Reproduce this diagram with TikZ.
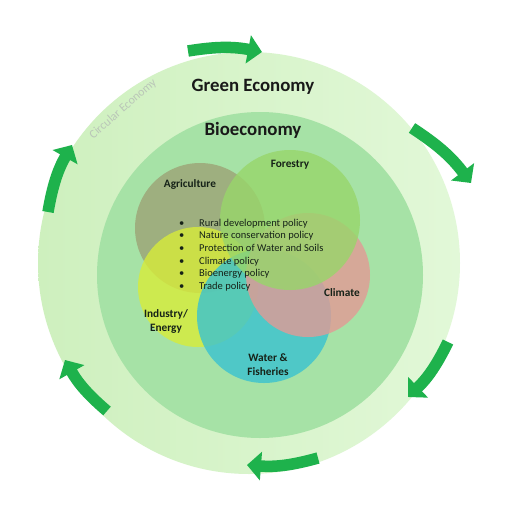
\documentclass[tikz,border=0pt]{standalone}
\usepackage{fontspec}
\setmainfont{Carlito}
\usetikzlibrary{arrows.meta}
\definecolor{ringL}{RGB}{206,240,190}
\definecolor{ringR}{RGB}{226,248,216}
\definecolor{bioc}{RGB}{166,226,166}
\definecolor{agric}{RGB}{156,163,118}
\definecolor{forec}{RGB}{152,214,106}
\definecolor{climc}{RGB}{226,154,149}
\definecolor{waterc}{RGB}{58,194,208}
\definecolor{indc}{RGB}{215,236,58}
\definecolor{arrowc}{RGB}{30,178,76}
\definecolor{labc}{RGB}{22,34,24}
\definecolor{circc}{RGB}{186,198,184}
\tikzset{
  petal/.style={fill opacity=0.8},
  cycarrow/.style={draw=arrowc, line width=11.5pt, -{Triangle[width=28pt,length=14pt]}},
  lbl/.style={font=\fontsize{11.3}{14}\selectfont\bfseries, text=labc, inner sep=0pt, anchor=base},
  title/.style={font=\fontsize{18.8}{22}\selectfont\bfseries, text=black!90, inner sep=0pt, anchor=base}
}
\begin{document}
\begin{tikzpicture}[x=1pt,y=-1pt]
\useasboundingbox (0,0) rectangle (530,504);
\fill[white] (0,0) rectangle (530,504);
% outer ring (Green Economy)
\shade[left color=ringL, right color=ringR] (249,263) circle[radius=211];
% Bioeconomy
\fill[bioc] (260,275) circle[radius=163];
% petals
\fill[agric, petal] (200,228) circle[radius=65];
\fill[indc, petal] (198,287) circle[radius=60];
\fill[waterc, petal] (264,316) circle[radius=67];
\fill[climc, petal] (308,275) circle[radius=62];
\fill[forec, petal] (290,220) circle[radius=70];
% titles
\node[title] (green) at (253,91) {Green Economy};
\node[title] (bio) at (253,135) {Bioeconomy};
\node[rotate=41, font=\fontsize{12}{14}\selectfont, text=circc, inner sep=0pt] (circ) at (123,109) {Circular Economy};
% labels
\node[lbl] (agri) at (190,187) {Agriculture};
\node[lbl] (fore) at (290,167) {Forestry};
\node[lbl] (clim) at (342,296) {Climate};
\node[lbl] (ind) at (166,317) {\begin{tabular}[t]{@{}c@{}}Industry/\\Energy\end{tabular}};
\node[lbl] (water) at (268,361) {\begin{tabular}[t]{@{}c@{}}Water \&\\Fisheries\end{tabular}};
% policies
\node[anchor=base west, inner sep=0pt, text=labc, font=\fontsize{10.5}{12.7}\selectfont] (pol) at (179,226) {%
\begin{tabular}[t]{@{}l@{}l@{}}
\makebox[20pt][l]{\textbullet} & Rural development policy\\
\makebox[20pt][l]{\textbullet} & Nature conservation policy\\
\makebox[20pt][l]{\textbullet} & Protection of Water and Soils\\
\makebox[20pt][l]{\textbullet} & Climate policy\\
\makebox[20pt][l]{\textbullet} & Bioenergy policy\\
\makebox[20pt][l]{\textbullet} & Trade policy
\end{tabular}};
% cycle arrows
\coordinate (a1s) at (188,51);  \coordinate (a1e) at (262,52);
\coordinate (a2s) at (412,128); \coordinate (a2e) at (471,183);
\coordinate (a3s) at (448,342); \coordinate (a3e) at (408,397);
\coordinate (a4s) at (318,458); \coordinate (a4e) at (247,465);
\coordinate (a5s) at (107,411); \coordinate (a5e) at (65,360);
\coordinate (a6s) at (48,212);  \coordinate (a6e) at (72,145);
\draw[cycarrow] (a1s) to[bend left=10] (a1e);
\draw[cycarrow] (a2s) to[bend left=10] (a2e);
\draw[cycarrow] (a3s) to[bend left=10] (a3e);
\draw[cycarrow] (a4s) to[bend left=10] (a4e);
\draw[cycarrow] (a5s) to[bend left=10] (a5e);
\draw[cycarrow] (a6s) to[bend left=10] (a6e);
\end{tikzpicture}
\end{document}
